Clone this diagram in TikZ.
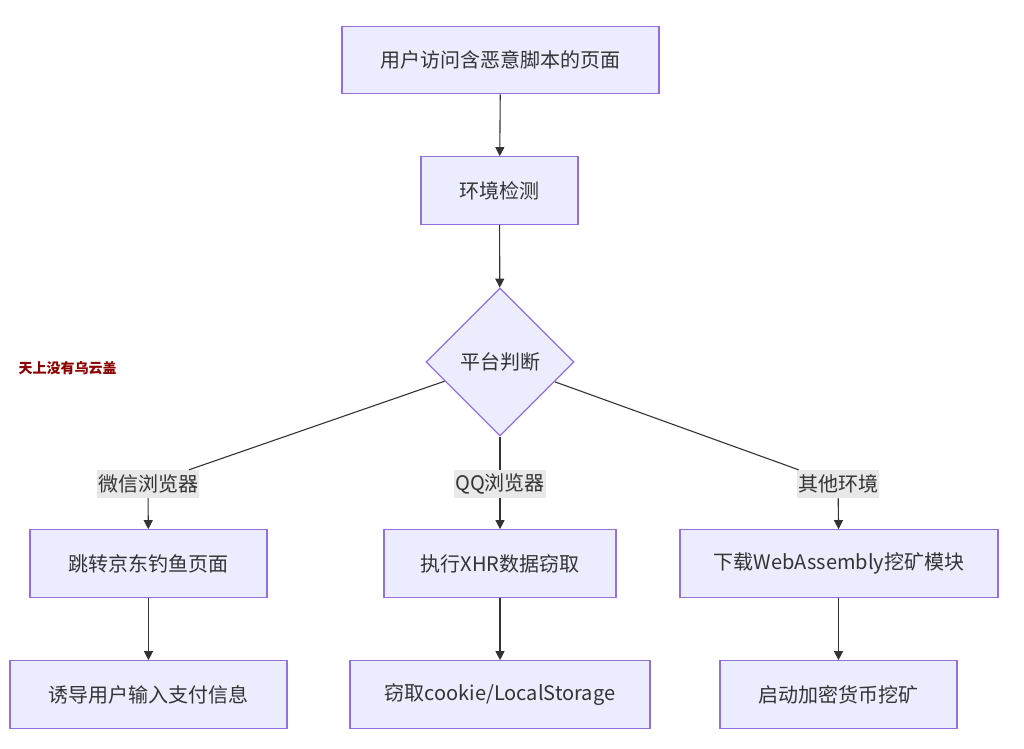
\documentclass[tikz,border=0pt]{standalone}
\usepackage{fontspec}
\setmainfont{Noto Sans CJK SC}
\usetikzlibrary{shapes.geometric,arrows.meta}
\definecolor{nodefill}{HTML}{ECECFF}
\definecolor{nodeline}{HTML}{9370DB}
\definecolor{ink}{HTML}{333333}
\definecolor{labfill}{HTML}{E8E8E8}
\definecolor{mark}{HTML}{8B0000}

\begin{document}
\begin{tikzpicture}[
  x=1pt, y=-1pt,
  box/.style={draw=nodeline, fill=nodefill, line width=1.2pt, inner sep=0pt,
    minimum height=67.5pt, text=ink, font=\fontsize{20}{24}\selectfont},
  dec/.style={diamond, draw=nodeline, fill=nodefill, line width=1.2pt,
    inner sep=0pt, minimum size=148pt, text=ink, font=\fontsize{20}{24}\selectfont},
  lab/.style={fill=labfill, inner xsep=1pt, inner ysep=0pt, minimum height=28pt,
    text=ink, font=\fontsize{20}{24}\selectfont},
  line/.style={draw=ink, line width=1.1pt},
  arr/.style={line, -{Triangle[length=9pt, width=9pt]}}
]
  \useasboundingbox (0,0) rectangle (1024,748);

  % watermark
  \node[text=mark, font=\fontsize{14}{16}\selectfont\bfseries] (wm) at (67.5,368) {天上没有乌云盖};

  % --- main chain
  \node[box, minimum width=317pt] (visit)  at (500.5,60)  {用户访问含恶意脚本的页面};
  \node[box, minimum width=157pt] (env)    at (499.5,190.5) {环境检测};
  \node[dec] (judge) at (500,362) {平台判断};

  % --- edge labels
  \node[lab] (wx)    at (148,484) {微信浏览器};
  \node[lab] (qq)    at (500,484) {QQ浏览器};
  \node[lab] (other) at (838,484) {其他环境};

  % --- row: actions
  \node[box, minimum width=237pt] (jd)    at (148.5,563.5) {跳转京东钓鱼页面};
  \node[box, minimum width=232pt] (xhr)   at (500,563.5)   {执行XHR数据窃取};
  \node[box, minimum width=318pt] (wasm)  at (839,563.5)   {下载WebAssembly挖矿模块};

  % --- row: results
  \node[box, minimum width=277pt] (pay)   at (148.5,694.5) {诱导用户输入支付信息};
  \node[box, minimum width=300pt] (steal) at (500,694.5)   {窃取cookie/LocalStorage};
  \node[box, minimum width=237pt] (mine)  at (838.5,694.5) {启动加密货币挖矿};

  % connectors
  \draw[arr] (visit) -- (env);
  \draw[arr] (env) -- (judge);
  \draw[line] (judge) -- (wx);
  \draw[line] (judge) -- (qq);
  \draw[line] (judge) -- (other);
  \draw[arr] (wx) -- (jd);
  \draw[arr] (qq) -- (xhr);
  \draw[arr] (other) -- (wasm);
  \draw[arr] (jd) -- (pay);
  \draw[arr] (xhr) -- (steal);
  \draw[arr] (wasm.south -| mine) -- (mine);
\end{tikzpicture}
\end{document}
